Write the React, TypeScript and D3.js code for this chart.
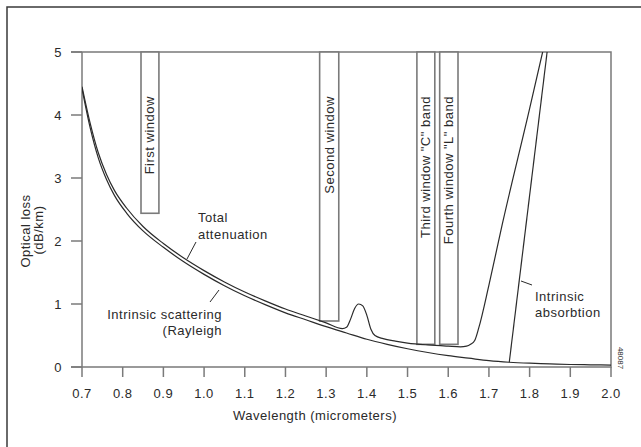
import * as d3 from 'd3';

const W = 641;
const H = 447;
const M = { top: 52, right: 30, bottom: 80, left: 82 };

// x ticks (micrometers) and y ticks (dB/km)
const xTicks = [0.7, 0.8, 0.9, 1.0, 1.1, 1.2, 1.3, 1.4, 1.5, 1.6, 1.7, 1.8, 1.9, 2.0];
const yTicks = [0, 1, 2, 3, 4, 5];

// intrinsic scattering (Rayleigh) – lower curve
const scatterX = [0.7, 0.72, 0.74, 0.76, 0.78, 0.81, 0.85, 0.9, 0.95, 1.0, 1.05, 1.1, 1.15, 1.2, 1.25, 1.3, 1.35, 1.4, 1.45, 1.5, 1.55, 1.6, 1.65, 1.7, 1.75, 1.8, 1.85, 1.9, 1.95, 2.0];
const scatterY = [4.42, 3.8, 3.32, 2.98, 2.72, 2.44, 2.16, 1.9, 1.67, 1.47, 1.29, 1.13, 0.99, 0.86, 0.75, 0.64, 0.54, 0.44, 0.36, 0.29, 0.23, 0.18, 0.14, 0.1, 0.075, 0.06, 0.05, 0.04, 0.035, 0.03];

// total attenuation – upper curve
const totalX = [0.7, 0.72, 0.74, 0.76, 0.78, 0.81, 0.85, 0.9, 0.95, 1.0, 1.05, 1.1, 1.15, 1.2, 1.25, 1.3, 1.34, 1.35, 1.36, 1.37, 1.38, 1.39, 1.4, 1.41, 1.42, 1.44, 1.47, 1.5, 1.55, 1.6, 1.63, 1.645, 1.655, 1.665, 1.675, 1.7, 1.733, 1.8, 1.832];
const totalY = [4.45, 3.87, 3.4, 3.06, 2.8, 2.52, 2.23, 1.96, 1.73, 1.53, 1.35, 1.19, 1.05, 0.92, 0.81, 0.7, 0.61, 0.63, 0.76, 0.93, 1.0, 0.97, 0.82, 0.6, 0.5, 0.45, 0.41, 0.38, 0.35, 0.33, 0.32, 0.33, 0.36, 0.42, 0.62, 1.3, 2.27, 4.1, 5.0];

// intrinsic absorption edge
const absorbX = [1.75, 1.843];
const absorbY = [0.075, 5.0];

// transmission windows
const windowLabels = ['First window', 'Second window', 'Third window "C" band', 'Fourth window "L" band'];
const windowStart = [0.845, 1.284, 1.523, 1.579];
const windowEnd = [0.889, 1.331, 1.567, 1.624];
const windowBottom = [2.44, 0.73, 0.36, 0.36];

const FONT = '"Liberation Sans", Arial, Helvetica, sans-serif';
const TXT = '#2a2a2a';
const FRAME = '#7a7a7a';

export default function App() {
  const x = d3.scaleLinear().domain([0.7, 2.0]).range([M.left, W - M.right]);
  const y = d3.scaleLinear().domain([0, 5]).range([H - M.bottom, M.top]);

  const line = d3
    .line<[number, number]>()
    .x((d) => x(d[0]))
    .y((d) => y(d[1]))
    .curve(d3.curveMonotoneX);

  const scatter = scatterX.map((v, i) => [v, scatterY[i]] as [number, number]);
  const total = totalX.map((v, i) => [v, totalY[i]] as [number, number]);
  const absorb = absorbX.map((v, i) => [v, absorbY[i]] as [number, number]);

  const x0 = x(0.7);
  const x1 = x(2.0);
  const yb = y(0);
  const yt = y(5);

  const textProps = {
    fontFamily: FONT,
    fontSize: 13,
    letterSpacing: 0.5,
    fill: TXT,
  };

  return (
    <svg
      width={W}
      height={H}
      viewBox={`0 0 ${W} ${H}`}
      style={{ position: 'fixed', left: 0, top: 0, background: '#fff' }}
    >
      <defs>
        <clipPath id="plot">
          <rect x={x0} y={yt} width={x1 - x0} height={yb - yt} />
        </clipPath>
      </defs>

      {/* outer frame (top and left edges) */}
      <path d={`M7,${H} V7 H${W}`} fill="none" stroke="#3a3a3a" strokeWidth={1.5} />

      {/* plot box */}
      <path
        d={`M${x0 - 11},${yt} H${x1} V${yb} H${x0 - 11}`}
        fill="none"
        stroke={FRAME}
        strokeWidth={1.5}
      />
      <line x1={x0} x2={x0} y1={yt} y2={yb} stroke={FRAME} strokeWidth={1.5} />

      {/* y ticks */}
      {yTicks.map((t) => (
        <g key={`y${t}`}>
          <line x1={x0 - 11} x2={x0} y1={y(t)} y2={y(t)} stroke={FRAME} strokeWidth={1.5} />
          <text {...textProps} x={x0 - 20} y={y(t)} textAnchor="end" dominantBaseline="central">
            {t}
          </text>
        </g>
      ))}

      {/* x ticks */}
      {xTicks.map((t) => (
        <g key={`x${t}`}>
          <line x1={x(t)} x2={x(t)} y1={yb} y2={yb + 10} stroke={FRAME} strokeWidth={1.5} />
          <text {...textProps} x={x(t)} y={yb + 26} textAnchor="middle" dominantBaseline="central">
            {t.toFixed(1)}
          </text>
        </g>
      ))}

      <text {...textProps} x={315} y={415} textAnchor="middle" dominantBaseline="central">
        Wavelength (micrometers)
      </text>
      <text
        {...textProps}
        transform="translate(25,231) rotate(-90)"
        textAnchor="middle"
        dominantBaseline="central"
      >
        Optical loss
      </text>
      <text
        {...textProps}
        transform="translate(38,230) rotate(-90)"
        textAnchor="middle"
        dominantBaseline="central"
      >
        (dB/km)
      </text>

      {/* windows */}
      {windowLabels.map((lab, i) => {
        const a = x(windowStart[i]);
        const b = x(windowEnd[i]);
        return (
          <g key={lab}>
            <rect
              x={a}
              y={yt}
              width={b - a}
              height={y(windowBottom[i]) - yt}
              fill="#fff"
              stroke={FRAME}
              strokeWidth={1.6}
            />
            <text
              {...textProps}
              transform={`translate(${(a + b) / 2},${y(4.3)}) rotate(-90)`}
              textAnchor="end"
              dominantBaseline="central"
            >
              {lab}
            </text>
          </g>
        );
      })}

      {/* curves */}
      <g clipPath="url(#plot)" fill="none" stroke="#2b2b2b" strokeWidth={1.2}>
        <path d={line(scatter) ?? ''} />
        <path d={line(total) ?? ''} />
        <path d={line(absorb) ?? ''} />
      </g>

      {/* annotations */}
      <text {...textProps} x={198} y={217} dominantBaseline="central">
        Total
      </text>
      <text {...textProps} x={198} y={234} dominantBaseline="central">
        attenuation
      </text>
      <line x1={196} y1={242} x2={187} y2={259} stroke={TXT} strokeWidth={1} />

      <text {...textProps} x={222} y={314} textAnchor="end" dominantBaseline="central">
        Intrinsic scattering
      </text>
      <text {...textProps} x={222} y={330} textAnchor="end" dominantBaseline="central">
        (Rayleigh
      </text>
      <line x1={210} y1={302} x2={219} y2={290} stroke={TXT} strokeWidth={1} />

      <text {...textProps} x={535} y={296} dominantBaseline="central">
        Intrinsic
      </text>
      <text {...textProps} x={535} y={312} dominantBaseline="central">
        absorbtion
      </text>
      <line x1={521} y1={281} x2={532} y2={285} stroke={TXT} strokeWidth={1} />

      <text
        fontFamily={FONT}
        fontSize={8}
        fill={TXT}
        transform="translate(620,358) rotate(90)"
        textAnchor="middle"
        dominantBaseline="central"
      >
        48087
      </text>
    </svg>
  );
}
